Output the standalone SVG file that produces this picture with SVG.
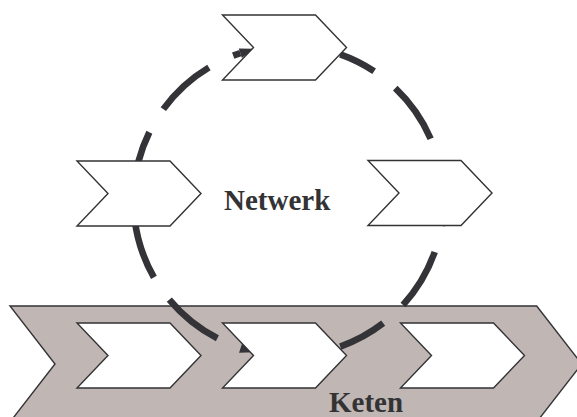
<svg xmlns="http://www.w3.org/2000/svg" xmlns:xlink="http://www.w3.org/1999/xlink" width="577" height="417" viewBox="0 0 577 417">
  <style>
    .chev { fill: #ffffff; stroke: #333336; stroke-width: 1.4; stroke-linejoin: miter; }
    .band { fill: #c0b7b4; stroke: #333336; stroke-width: 1.4; }
    .conn { fill: none; stroke: #333338; stroke-width: 6.6; stroke-dasharray: 62 27; }
    .label { font-family: "Liberation Serif", "Times New Roman", serif; font-weight: bold; font-size: 29px; fill: #333336; }
  </style>
  <defs>
    <path id="chevron" d="M0,0 H93 L124,32.5 L93,65 H0 L31,32.5 Z"/>
    <marker id="arrow" markerUnits="userSpaceOnUse" orient="auto" refX="0" refY="0" markerWidth="16" markerHeight="12" viewBox="0 -6 16 12" overflow="visible">
      <path d="M0,-5 L14,0 L0,5 Z" fill="#333338"/>
    </marker>
  </defs>

  <g id="keten">
    <polygon class="band" points="10,306 536.7,306 581.7,364 530.5,430 3.8,430 55,364"/>
    <text class="label" x="329" y="412">Keten</text>
  </g>

  <g id="connectors">
    <path class="conn" d="M133.75,191.85 A155,155 0 0 1 240.34,53.17" marker-end="url(#arrow)"/>
    <path class="conn" d="M134.6,218.85 A155,155 0 0 0 240.6,347.9" marker-end="url(#arrow)"/>
    <path class="conn" style="stroke-dashoffset:24" d="M340.24,54.39 A155,155 0 0 1 340.24,346.61"/>
  </g>

  <g id="node-top"><use xlink:href="#chevron" class="chev" transform="translate(222.5,15)"/></g>
  <g id="node-left"><use xlink:href="#chevron" class="chev" transform="translate(77,161)"/></g>
  <g id="node-right"><use xlink:href="#chevron" class="chev" transform="translate(368,160.5)"/></g>
  <g id="node-chain-1"><use xlink:href="#chevron" class="chev" transform="translate(77,323)"/></g>
  <g id="node-chain-2"><use xlink:href="#chevron" class="chev" transform="translate(222.5,323)"/></g>
  <g id="node-chain-3"><use xlink:href="#chevron" class="chev" transform="translate(400.5,323)"/></g>

  <g id="netwerk">
    <text class="label" x="224" y="210">Netwerk</text>
  </g>
</svg>
